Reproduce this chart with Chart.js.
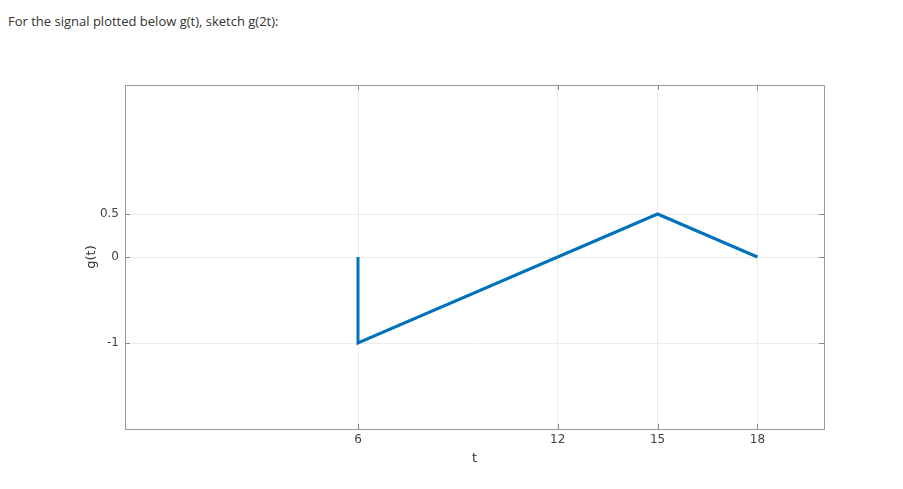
<!DOCTYPE html>
<html>
<head>
<meta charset="utf-8">
<script src="https://cdn.jsdelivr.net/npm/chart.js@4.4.1/dist/chart.umd.min.js"></script>
<style>
  html, body { margin: 0; padding: 0; background: #fff; }
  #wrap { position: relative; width: 903px; height: 489px; }
  #prompt { position: absolute; left: 8px; top: 12px; font-family: "Open Sans", sans-serif; font-size: 13px; color: #333; white-space: nowrap; }
  canvas { position: absolute; left: 0; top: 0; }
</style>
</head>
<body>
<div id="wrap">
  <div id="prompt">For the signal plotted below g(t), sketch g(2t):</div>
  <canvas id="c" width="903" height="489"></canvas>
</div>
<script>
const tValues = [6, 6, 15, 18];
const gValues = [0, -1, 0.5, 0];
const xTicks = [6, 12, 15, 18];
const yTicks = [-1, 0, 0.5];
const xRange = [-1, 20];
const yRange = [-2, 2];

const points = tValues.map((t, i) => ({ x: t, y: gValues[i] }));

const boxPlugin = {
  id: 'box',
  afterDraw(chart) {
    const { ctx, chartArea: a, scales } = chart;
    ctx.save();
    ctx.strokeStyle = '#9a9a9a';
    ctx.lineWidth = 1;
    ctx.strokeRect(Math.round(a.left) + 0.5, Math.round(a.top) + 0.5, Math.round(a.right - a.left), Math.round(a.bottom - a.top));
    ctx.strokeStyle = '#8a8a8a';
    const L = 5;
    ctx.beginPath();
    xTicks.forEach(v => {
      const px = Math.round(scales.x.getPixelForValue(v)) + 0.5;
      ctx.moveTo(px, a.bottom); ctx.lineTo(px, a.bottom - L);
      ctx.moveTo(px, a.top); ctx.lineTo(px, a.top + L);
    });
    yTicks.forEach(v => {
      const py = Math.round(scales.y.getPixelForValue(v)) + 0.5;
      ctx.moveTo(a.left, py); ctx.lineTo(a.left + L, py);
      ctx.moveTo(a.right, py); ctx.lineTo(a.right - L, py);
    });
    ctx.stroke();
    ctx.restore();
  }
};

new Chart(document.getElementById('c'), {
  type: 'scatter',
  data: {
    datasets: [{
      data: points,
      showLine: true,
      borderColor: '#0072BD',
      borderWidth: 3,
      pointRadius: 0,
      fill: false,
      tension: 0
    }]
  },
  options: {
    responsive: false,
    animation: false,
    plugins: { legend: { display: false }, tooltip: { enabled: false } },
    layout: { padding: { left: 0, top: 85, right: 79, bottom: 0 } },
    scales: {
      x: {
        type: 'linear', min: xRange[0], max: xRange[1],
        afterBuildTicks(s) { s.ticks = xTicks.map(v => ({ value: v })); },
        afterFit(s) { s.height = 60; },
        grid: { color: '#ececec', drawTicks: false, lineWidth: 1 },
        border: { display: false },
        ticks: { padding: 4, color: '#444', font: { family: 'DejaVu Sans', size: 12 }, maxRotation: 0 },
        title: { display: true, text: 't', color: '#333', font: { family: 'DejaVu Sans', size: 13 }, padding: { top: 0, bottom: 23 } }
      },
      y: {
        type: 'linear', min: yRange[0], max: yRange[1],
        afterBuildTicks(s) { s.ticks = yTicks.map(v => ({ value: v })); },
        afterFit(s) { s.width = 125; },
        grid: { color: '#ececec', drawTicks: false, lineWidth: 1 },
        border: { display: false },
        ticks: { padding: 6, color: '#444', font: { family: 'DejaVu Sans', size: 12 } },
        title: { display: true, text: 'g(t)', color: '#333', font: { family: 'DejaVu Sans', size: 13 }, padding: { top: 84, bottom: 0 } }
      }
    }
  },
  plugins: [boxPlugin]
});
</script>
</body>
</html>
